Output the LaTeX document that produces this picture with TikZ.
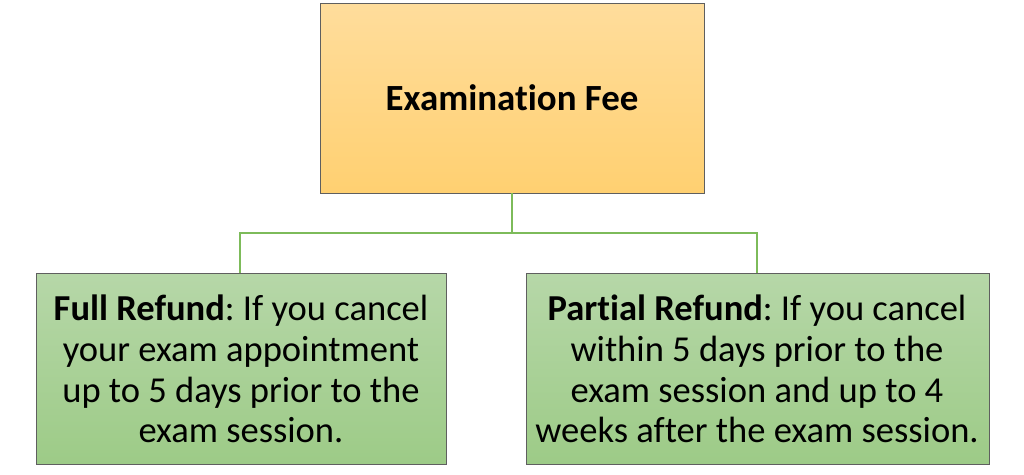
\documentclass[tikz,border=0pt]{standalone}
\usepackage{fontspec}
\setmainfont{Carlito}[Ligatures={NoCommon}]
\frenchspacing
\definecolor{orgtop}{HTML}{FFDD9C}
\definecolor{orgbot}{HTML}{FFD071}
\definecolor{grntop}{HTML}{B6D7A8}
\definecolor{grnbot}{HTML}{9DCB87}
\definecolor{linkgreen}{HTML}{7DBB5A}
\definecolor{edgegray}{HTML}{5F5F5F}
\begin{document}
\begin{tikzpicture}[x=0.02cm,y=-0.02cm,
  topbox/.style={draw=edgegray,line width=0.5pt,top color=orgtop,bottom color=orgbot},
  leafbox/.style={draw=edgegray,line width=0.5pt,top color=grntop,bottom color=grnbot},
  link/.style={draw=linkgreen,line width=1.1pt},
  boxtext/.style={align=center,font=\fontsize{20.8pt}{23.2pt}\selectfont,inner sep=0pt}]
\useasboundingbox (0,0) rectangle (1024,474);
% boxes
\path[topbox] (320,3) rectangle (704,193);
\path[leafbox] (36,273) rectangle (446,464);
\path[leafbox] (526,273) rectangle (989,464);
\coordinate (feeS) at (512,193);
\coordinate (fullN) at (240,273);
\coordinate (partN) at (757,273);
\coordinate (bar) at (512,233);
\node[font=\fontsize{21pt}{24pt}\selectfont\bfseries,inner sep=0pt] (fee) at (512,98) {Examination Fee};
\node[boxtext] (full) at (241,369) {\textbf{Full Refund}: If you cancel\\your exam appointment\\up to 5 days prior to the\\exam session.};
\node[boxtext] (part) at (757,369) {\textbf{Partial Refund}: If you cancel\\within 5 days prior to the\\exam session and up to 4\\weeks after the exam session.};
\draw[link] (feeS) -- (bar) -| (fullN);
\draw[link] (bar) -| (partN);
\end{tikzpicture}
\end{document}
